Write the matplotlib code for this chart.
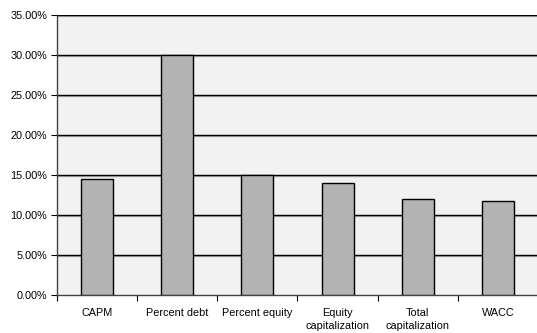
import matplotlib
matplotlib.use("Agg")
import matplotlib.pyplot as plt
import matplotlib.patheffects as pe
from matplotlib.ticker import FuncFormatter, MultipleLocator

categories = ["CAPM", "Percent debt", "Percent equity", "Equity\ncapitalization",
              "Total\ncapitalization", "WACC"]
values = [14.5, 30.0, 15.0, 14.0, 12.0, 11.8]

plt.rcParams['font.family'] = ['Liberation Sans', 'DejaVu Sans']

W, H = 537, 333
fig = plt.figure(figsize=(W / 100, H / 100), dpi=100)
ax = fig.add_axes([57 / W, 1 - 295 / H, 481 / W, 280 / H])
ax.set_facecolor('#f2f2f2')

x = list(range(len(categories)))
ax.bar(x, values, width=0.4, color='#b3b3b3', edgecolor='black', linewidth=1, zorder=3)

ax.set_ylim(0, 35)
ax.set_xlim(-0.5, len(categories) - 0.5)
ax.yaxis.set_major_locator(MultipleLocator(5))
ax.yaxis.set_major_formatter(FuncFormatter(lambda v, p: f"{v:.2f}%"))

for yv in range(5, 36, 5):
    ax.axhline(yv, color='black', linewidth=1, zorder=1,
               path_effects=[pe.SimpleLineShadow(offset=(0, -0.8), shadow_color='#b0b0b0', alpha=1),
                             pe.Normal()])

ax.set_xticks(x)
ax.set_xticklabels(categories, fontsize=7.8, linespacing=1.4)
ax.set_xticks([i - 0.5 for i in range(len(categories) + 1)], minor=True)
ax.tick_params(axis='x', which='major', length=0, pad=9)
ax.tick_params(axis='x', which='minor', length=4, direction='out', width=0.8)
ax.tick_params(axis='y', length=4, direction='out', width=0.8, labelsize=7.8, pad=3)

for s in ['top', 'right']:
    ax.spines[s].set_visible(False)
ax.spines['left'].set_linewidth(1)
ax.spines['left'].set_color('#444444')
ax.spines['bottom'].set_linewidth(1)
ax.spines['bottom'].set_color('#444444')

fig.savefig("out.png", dpi=100)
